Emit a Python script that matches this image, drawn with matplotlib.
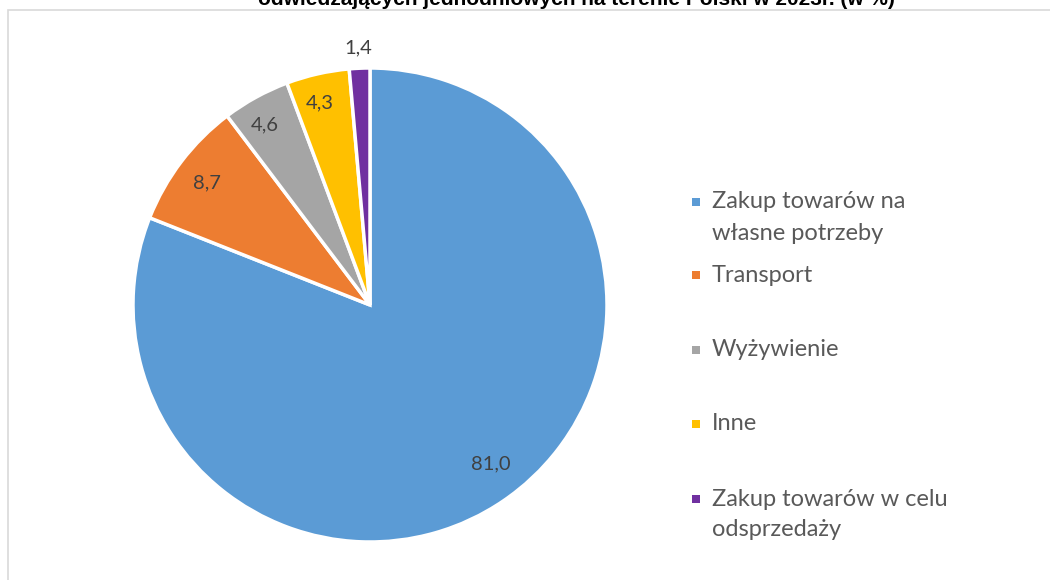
import numpy as np
import matplotlib
matplotlib.use("Agg")
import matplotlib.pyplot as plt
from matplotlib.patches import Rectangle

plt.rcParams['font.family'] = ['Lato', 'DejaVu Sans']

# data
categories = ["Zakup towarów na\nwłasne potrzeby", "Transport", "Wyżywienie", "Inne",
              "Zakup towarów w celu\nodsprzedaży"]
shares = [81.0, 8.7, 4.6, 4.3, 1.4]
value_labels = ["81,0", "8,7", "4,6", "4,3", "1,4"]
colors = ["#5B9BD5", "#ED7D31", "#A5A5A5", "#FFC000", "#7030A0"]
title = "odwiedzających jednodniowych na terenie Polski w 2023r. (w %)"

W, H = 1050, 580
fig = plt.figure(figsize=(W / 100, H / 100), dpi=100)

# light frame of the chart area
fig.add_artist(Rectangle((8 / W, -0.01), 1.0, (H - 10) / H + 0.01, transform=fig.transFigure,
                         fill=False, edgecolor="#D9D9D9", linewidth=1.2))

# title, cut at the top edge as in the source image
fig.text(576 / W, (H - 5) / H, title, ha="center", va="baseline", fontsize=15,
         fontweight="bold", family=["Liberation Sans Narrow", "Liberation Sans", "DejaVu Sans"],
         color="#000000")

cx, cy, r = 370, 305, 237
ax = fig.add_axes([(cx - r) / W, (H - cy - r) / H, 2 * r / W, 2 * r / H])
wedges, _ = ax.pie(shares, colors=colors, startangle=90, counterclock=False, radius=1.0,
                   wedgeprops=dict(edgecolor="white", linewidth=2.5))
ax.set_xlim(-1, 1)
ax.set_ylim(-1, 1)
ax.set_aspect("equal")
ax.axis("off")

# value labels along the mid angle of each slice
label_r = [0.84, 0.86, 0.88, 0.88, 1.085]
label_da = [3.0, 0.5, 1.5, 1.1, 0.0]
for w, lab, lr, da in zip(wedges, value_labels, label_r, label_da):
    mid = np.deg2rad((w.theta1 + w.theta2) / 2 + da)
    ax.text(lr * np.cos(mid), lr * np.sin(mid), lab, ha="center", va="center",
            fontsize=14.5, color="#404040", clip_on=False)

# legend drawn by hand so the marker sits at the first line
leg_y = [202, 275, 350, 424, 499]
line_gap = 31
for cat, col, y in zip(categories, colors, leg_y):
    fig.add_artist(Rectangle(((696 - 4) / W, (H - y - 4) / H), 8 / W, 8 / H,
                             transform=fig.transFigure, color=col, linewidth=0))
    for i, line in enumerate(cat.split("\n")):
        fig.text(712 / W, (H - y - i * line_gap) / H, line, ha="left", va="center",
                 fontsize=17, color="#595959")

fig.savefig("out.png", dpi=100)
